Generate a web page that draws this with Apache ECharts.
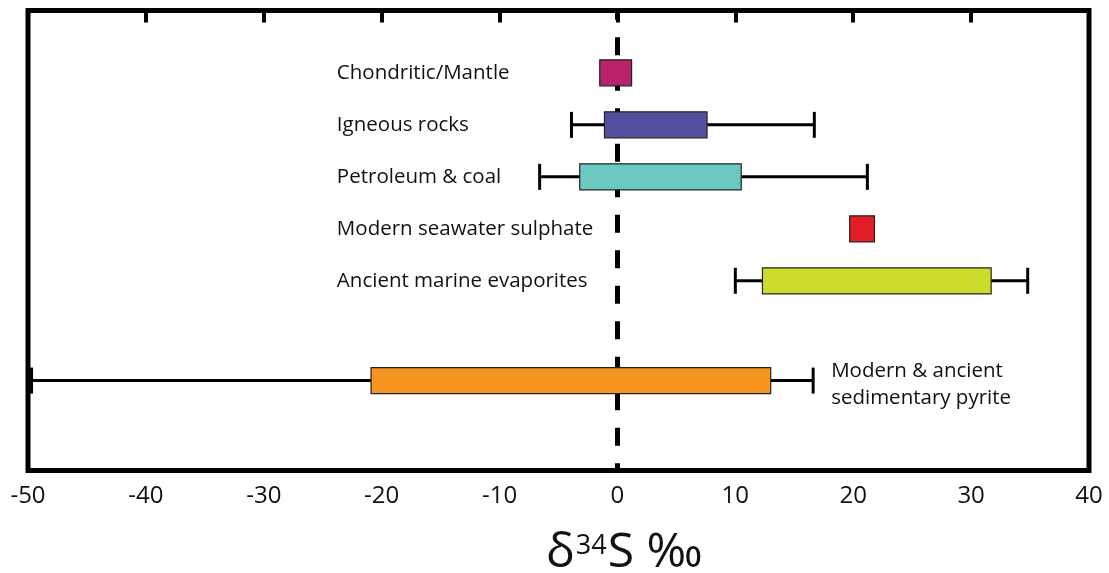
<!DOCTYPE html>
<html>
<head>
<meta charset="utf-8">
<script src="https://cdn.jsdelivr.net/npm/echarts@6/dist/echarts.min.js"></script>
<style>html,body{margin:0;padding:0;background:#fff;}#c{width:1109px;height:573px;}</style>
</head>
<body>
<div id="c"></div>
<script>
// ---- data ----
const categories = ['Chondritic/Mantle', 'Igneous rocks', 'Petroleum & coal', 'Modern seawater sulphate', 'Ancient marine evaporites', 'Modern & ancient\nsedimentary pyrite'];
const rows = [1, 2, 3, 4, 5, 6.92];
const whiskerMin = [null, -3.9, -6.6, null, 10.0, -49.7];
const boxMin = [-1.5, -1.1, -3.2, 19.7, 12.3, -20.9];
const boxMax = [1.2, 7.6, 10.5, 21.8, 31.7, 13.0];
const whiskerMax = [null, 16.7, 21.2, null, 34.8, 16.6];
const colors = ['#B8226B', '#5350A2', '#6DC8BF', '#E31E26', '#CBDC2A', '#F6951F'];
const xTicks = [-50, -40, -30, -20, -10, 0, 10, 20, 30, 40];

const FONT = '"Open Sans", "Noto Sans", sans-serif';
const chart = echarts.init(document.getElementById('c'), null, {renderer: 'canvas'});

const seriesData = categories.map((c, i) => [rows[i], boxMin[i], boxMax[i], i]);

function renderItem(params, api) {
  const i = params.dataIndex;
  const y = api.coord([0, rows[i]])[1];
  const h = 26;
  const bx0 = api.coord([boxMin[i], rows[i]])[0];
  const bx1 = api.coord([boxMax[i], rows[i]])[0];
  const ch = [];
  const lineStyle = {stroke: '#000', lineWidth: 3};
  if (whiskerMin[i] !== null) {
    const wx = api.coord([whiskerMin[i], rows[i]])[0];
    ch.push({type: 'line', shape: {x1: wx, y1: y, x2: bx0, y2: y}, style: lineStyle});
    ch.push({type: 'line', shape: {x1: wx, y1: y - h / 2, x2: wx, y2: y + h / 2}, style: lineStyle});
  }
  let rightEdge = bx1;
  if (whiskerMax[i] !== null) {
    const wx = api.coord([whiskerMax[i], rows[i]])[0];
    rightEdge = wx;
    ch.push({type: 'line', shape: {x1: bx1, y1: y, x2: wx, y2: y}, style: lineStyle});
    ch.push({type: 'line', shape: {x1: wx, y1: y - h / 2, x2: wx, y2: y + h / 2}, style: lineStyle});
  }
  ch.push({type: 'rect', shape: {x: bx0, y: y - h / 2, width: bx1 - bx0, height: h},
    style: {fill: colors[i], stroke: '#222', lineWidth: 1.2}});
  const isLast = categories[i].indexOf('\n') >= 0;
  const tx = isLast ? rightEdge + 18 : api.coord([-23.8, rows[i]])[0];
  ch.push({type: 'text', x: tx, y: isLast ? y + 4 : y,
    style: {text: categories[i], fill: '#111', font: '20.5px ' + FONT, align: 'left', verticalAlign: 'middle', lineHeight: 27}});
  return {type: 'group', children: ch};
}

const option = {
  backgroundColor: '#fff',
  animation: false,
  grid: {left: 28, right: 20, top: 10.5, bottom: 102.5, show: true, borderColor: '#000', borderWidth: 5,
    backgroundColor: 'transparent', containLabel: false, outerBoundsMode: 'none'},
  xAxis: [{
    type: 'value', position: 'bottom', min: xTicks[0], max: xTicks[xTicks.length - 1], interval: 10,
    axisLine: {show: false}, splitLine: {show: false},
    axisTick: {show: true, inside: true, length: 12, lineStyle: {color: '#000', width: 4}},
    axisLabel: {fontSize: 24, color: '#111', fontFamily: FONT, margin: 14}
  }, {
    type: 'value', position: 'top', min: xTicks[0], max: xTicks[xTicks.length - 1], interval: 10,
    axisLine: {show: false}, splitLine: {show: false},
    axisTick: {show: true, inside: true, length: 12, lineStyle: {color: '#000', width: 4}},
    axisLabel: {show: false}
  }],
  yAxis: {type: 'value', inverse: true, min: -0.2, max: 8.65, show: false},
  graphic: [{
    type: 'text', left: 546, top: 527, z: 10,
    style: {
      text: '{d|δ}{s|34}{d|S ‰}',
      rich: {
        d: {fontSize: 48, fontFamily: FONT, fill: '#111', lineHeight: 52},
        s: {fontSize: 27, fontFamily: FONT, fill: '#111', lineHeight: 27, verticalAlign: 'top', padding: [6, 1, 0, 1]}
      }
    }
  }],
  series: [{
    type: 'line', data: [], z: 1,
    markLine: {
      silent: true, symbol: 'none', label: {show: false}, z: 1,
      lineStyle: {color: '#000', width: 5, type: [18, 17.5], dashOffset: 8.7},
      data: [{xAxis: 0}]
    }
  }, {
    type: 'custom', renderItem: renderItem, data: seriesData, encode: {x: [1, 2], y: 0},
    clip: false, z: 5
  }]
};
chart.setOption(option);
</script>
</body>
</html>
